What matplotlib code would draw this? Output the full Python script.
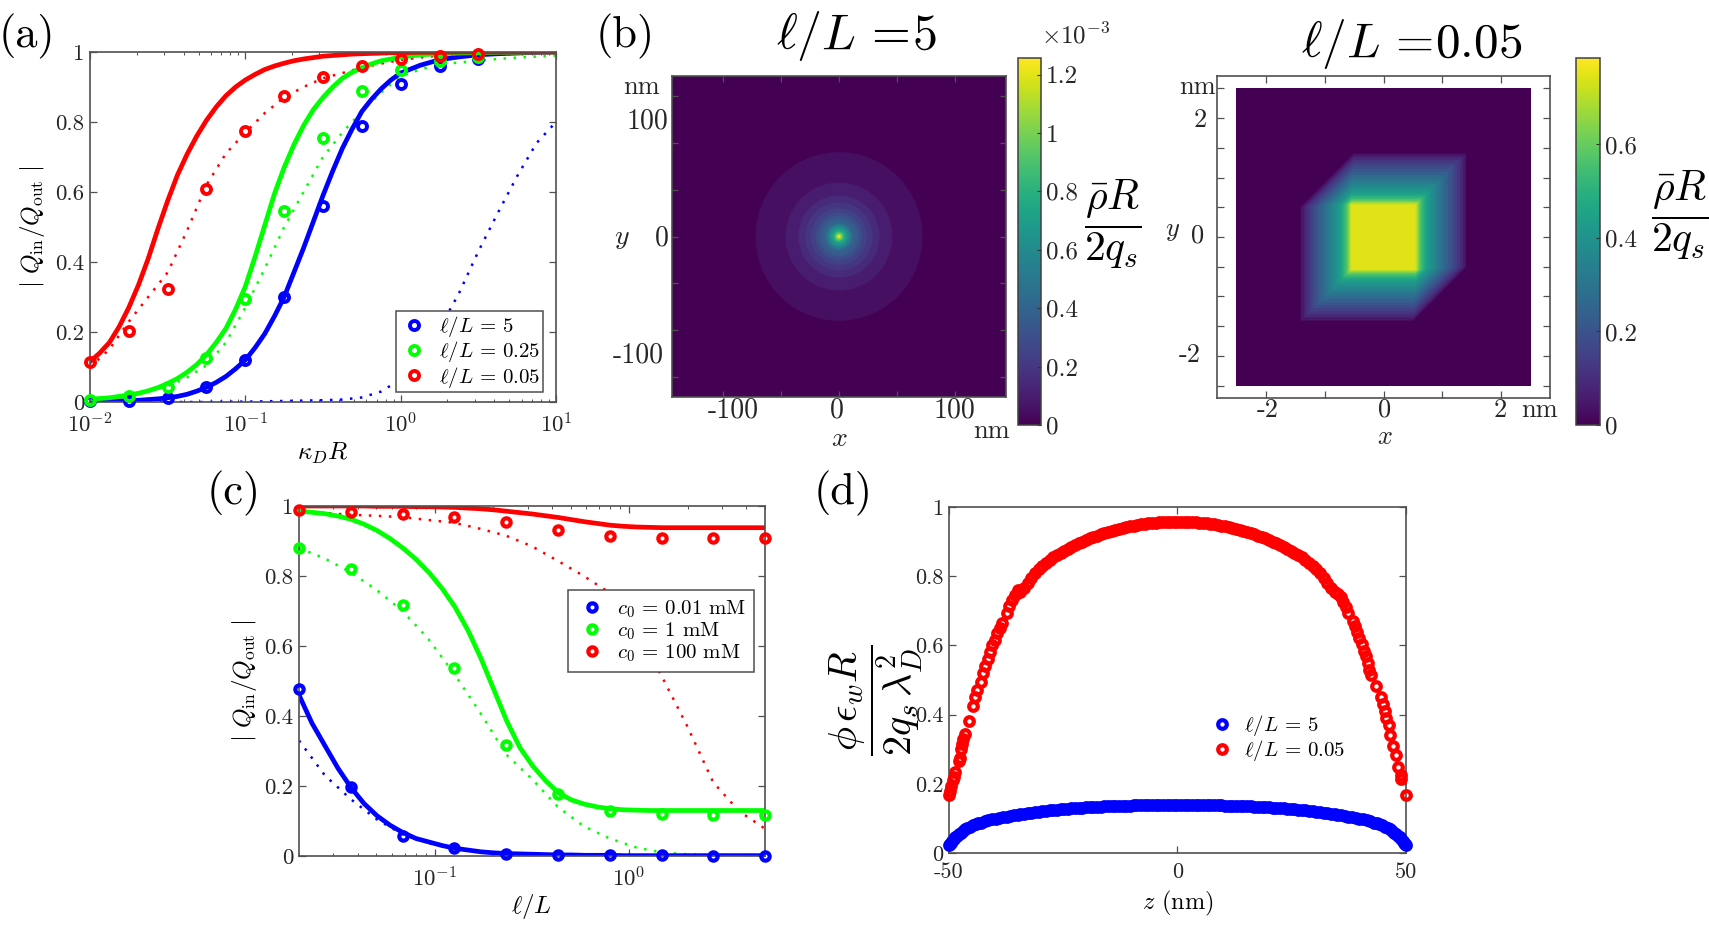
import numpy as np
import matplotlib
matplotlib.use("Agg")
import matplotlib.pyplot as plt

plt.rcParams["font.family"] = ["cmr10", "DejaVu Sans"]
plt.rcParams["mathtext.fontset"] = "cm"
plt.rcParams["axes.formatter.use_mathtext"] = True
plt.rcParams["axes.unicode_minus"] = False

W, H = 1709, 932
BLUE, GREEN, RED = (0, 0, 1), (0, 1, 0), (1, 0, 0)
AXC = "#505050"

# panel a
a_pts_x = [0.01, 0.0178, 0.0316, 0.0562, 0.1, 0.178, 0.316, 0.562, 1, 1.78, 3.16]
a_pts_blue = [0.002, 0.004, 0.012, 0.043, 0.12, 0.30, 0.56, 0.79, 0.91, 0.96, 0.98]
a_pts_green = [0.007, 0.018, 0.042, 0.125, 0.295, 0.545, 0.755, 0.89, 0.95, 0.975, 0.985]
a_pts_red = [0.115, 0.203, 0.323, 0.61, 0.775, 0.875, 0.93, 0.96, 0.98, 0.99, 0.995]
a_x = [.01, .01155, .01334, .0154, .01778, .02054, .02371, .02738, .03162, .03652, .04217, .0487, .05623, .06494,
       .07499, .0866, .1, .1155, .1334, .154, .1778, .2054, .2371, .2738, .3162, .3652, .4217, .487, .5623, .6494,
       .7499, .866, 1, 1.334, 1.778, 2.371, 3.162, 4.217, 5.623, 7.499, 10]
a_blue = [.001, .0015, .002, .003, .004, .005, .007, .009, .012, .016, .022, .031, .042, .056, .073, .095, .12, .155,
          .195, .245, .30, .37, .44, .515, .59, .66, .725, .78, .83, .865, .895, .92, .94, .962, .978, .986, .992,
          .995, .997, .999, 1]
a_green = [.008, .01, .012, .016, .02, .025, .032, .041, .053, .067, .085, .107, .135, .17, .21, .265, .33, .415,
           .505, .595, .67, .735, .79, .835, .87, .90, .925, .942, .955, .966, .975, .98, .985, .992, .995, .997, .998,
           .999, .999, 1, 1]
a_red = [.115, .14, .17, .215, .27, .335, .41, .495, .575, .648, .708, .76, .805, .843, .875, .90, .92, .936, .95, .96,
         .968, .975, .98, .984, .988, .99, .992, .994, .995, .996, .997, .998, .998, .999, .999, 1, 1, 1, 1, 1, 1]
a_x_dot = [0.01, 0.0133, 0.0178, 0.0237, 0.0316, 0.0422, 0.0562, 0.075, 0.1, 0.133, 0.178, 0.237, 0.316,
           0.422, 0.562, 0.75, 1, 1.33, 1.78, 2.37, 3.16, 4.22, 5.62, 7.5, 10]
a_blue_dot = [0, 0, 0, 0, 0, 0, 0, .001, .001, .002, .003, .004, .005,
              .007, .013, .03, .065, .12, .21, .31, .43, .54, .645, .74, .80]
a_green_dot = [.005, .008, .018, .03, .045, .07, .105, .17, .27, .38, .50, .60, .70,
               .77, .83, .885, .93, .95, .965, .97, .975, .98, .984, .987, .99]
a_red_dot = [.10, .15, .23, .30, .37, .49, .62, .71, .77, .825, .87, .90, .925,
             .94, .955, .967, .977, .984, .99, .993, .995, .997, .998, .999, 1]

# panel c
c_pts_x = [0.02, 0.037, 0.0682, 0.126, 0.233, 0.43, 0.794, 1.47, 2.71, 5]
c_pts_blue = [.477, .197, .058, .022, .007, .003, .002, .002, .001, .001]
c_pts_green = [.88, .82, .717, .537, .316, .178, .13, .12, .118, .118]
c_pts_red = [.99, .983, .978, .968, .953, .932, .915, .91, .91, .91]
c_x = [.02, .0233, .0272, .0318, .0371, .0432, .0504, .0588, .0685, .08, .0933, .1088, .1268, .148, .1726, .2013,
       .2347, .2738, .3192, .372, .4335, .5058, .59, .6887, .802, .935, 1.09, 1.273, 1.486, 1.73, 2.02, 2.355, 2.748,
       3.206, 3.74, 4.365, 5]
c_blue = [.46, .38, .315, .25, .195, .15, .115, .088, .067, .05, .04, .03, .022, .017, .012, .009, .007, .006, .005,
          .004, .003, .003, .002, .002, .002, .001, .001, .001, .001, .001, .001, .001, .001, .001, .001, .001, .001]
c_green = [.985, .982, .978, .971, .962, .948, .93, .907, .88, .848, .81, .765, .712, .645, .565, .475, .385, .31, .257,
           .215, .18, .16, .148, .14, .135, .132, .131, .13, .13, .13, .13, .13, .13, .13, .13, .13, .13]
c_red = [1, 1, 1, 1, 1, 1, .999, .999, .999, .998, .998, .997, .996, .994, .992, .989, .985, .981, .977, .972, .967,
         .961, .955, .95, .945, .942, .94, .939, .938, .938, .938, .938, .938, .938, .938, .938, .938]
c_x_dot = [0.02, 0.0272, 0.037, 0.0502, 0.0682, 0.0927, 0.126, 0.171, 0.233, 0.316, 0.43, 0.584, 0.794,
           1.08, 1.47, 1.99, 2.71, 3.68, 5]
c_blue_dot = [.33, .23, .162, .105, .062, .037, .02, .012, .007, .004, .003, .002, .001, .001, .001, .001, .001, .001, .001]
c_green_dot = [.88, .85, .81, .76, .70, .62, .52, .41, .29, .22, .14, .085, .05, .025, .01, .005, .003, .002, .001]
c_red_dot = [.985, .98, .975, .972, .968, .96, .952, .935, .915, .885, .843, .80, .752, .64, .514, .371, .21, .128, .078]

# panel d
d_z_half = [0, .8, 1.6, 2.4, 3.2, 4, 4.8, 5.6, 6.4, 7.2, 8, 8.8, 9.6, 10.4, 11.2, 12, 12.8, 13.6, 14.4, 15.2, 16, 16.8,
            17.6, 18.4, 19.2, 20, 20.8, 21.6, 22.4, 23.2, 24, 24.8, 25.6, 26.4, 27.2, 28, 28.8, 29.6, 30.4, 31.2, 32,
            32.8, 33.6, 34.4]
d_red_half = [.958, .958, .958, .957, .957, .956, .955, .954, .953, .951, .95, .948, .946, .944, .942, .94, .937, .934,
              .931, .928, .925, .921, .917, .913, .909, .905, .90, .895, .89, .885, .88, .874, .868, .862, .855, .848,
              .839, .83, .82, .808, .795, .781, .767, .753]
d_blue_half = [.14, .14, .14, .14, .14, .139, .139, .139, .139, .139, .139, .138, .138, .137, .137, .137, .136, .136,
               .135, .135, .135, .134, .133, .133, .132, .132, .131, .13, .13, .129, .128, .127, .126, .125, .124, .123,
               .122, .12, .119, .118, .116, .115, .113, .112]
d_z_blue_tail = [35, 35.8, 36.6, 37.4, 38.2, 39, 39.8, 40.6, 41.4, 42.2, 43, 43.6, 44.2, 44.8, 45.4, 46, 46.5, 47, 47.4,
                 47.8, 48.2, 48.6, 49, 49.3, 49.6, 49.8, 50]
d_blue_tail = [.111, .109, .107, .105, .103, .101, .099, .097, .094, .092, .088, .086, .083, .08, .076, .072, .068, .063,
               .059, .055, .05, .045, .04, .034, .029, .025, .022]
d_z_red_left = [-50, -49.8, -49.5, -49.2, -49, -48.7, -47.9, -47.7, -47.4, -47.1, -46.9, -46.6, -45.7, -44.8, -44.3, -43.9,
                -43, -42.6, -42.1, -41.5, -41, -40.5, -40, -39.4, -38.9, -38.3, -37.4, -36.8, -36.2, -35.6, -35]
d_red_left = [.167, .18, .195, .21, .22, .235, .265, .275, .30, .315, .33, .345, .382, .425, .45, .47,
              .495, .52, .54, .56, .58, .60, .615, .635, .65, .665, .695, .715, .73, .745, .76]
d_z_red_right = [35.2, 35.7, 36.3, 36.9, 37.4, 38.3, 38.8, 39.3, 39.8, 40.3, 40.8, 41.2, 41.6, 42, 42.4, 43.4, 44.5, 44.9,
                 45.3, 45.7, 46.2, 46.6, 47.2, 47.8, 48.3, 48.8, 49, 50]
d_red_right = [.75, .74, .725, .71, .695, .67, .655, .64, .62, .605, .585, .57, .55, .53, .515, .483, .45, .43,
               .41, .39, .37, .34, .31, .283, .25, .225, .215, .167]

# panel b
ring_radii = [72, 46, 35, 29, 24, 20, 17, 14, 11, 9, 7, 5, 3.5, 2, 1]
ring_values = [0.05e-3, 0.1e-3, 0.15e-3, 0.2e-3, 0.25e-3, 0.3e-3, 0.35e-3, 0.4e-3, 0.5e-3, 0.6e-3, 0.7e-3, 0.8e-3,
               0.95e-3, 1.1e-3, 1.25e-3]
band_edges = [0, .03, .06, .1, .14, .18, .23, .28, .34, .4, .46, .52, .58, .64, .7, .76, .82, .88, .94, 1]
band_values = [.75, .70, .64, .58, .53, .49, .45, .42, .39, .36, .33, .30, .27, .24, .21, .18, .15, .12, .09, .05]


def axpx(x0, x1, y0, y1):
    return fig.add_axes([x0 / W, 1 - y1 / H, (x1 - x0) / W, (y1 - y0) / H])


def txt(x, y, s, size=20, **kw):
    fig.text(x / W, 1 - y / H, s, fontsize=size, ha=kw.pop("ha", "center"), va=kw.pop("va", "center"),
             color=kw.pop("color", "#262626"), **kw)


def style(ax, size=16.5):
    for s in ax.spines.values():
        s.set_color(AXC)
        s.set_linewidth(1.2)
    ax.tick_params(which="major", direction="in", top=True, right=True, length=5, width=0.9, color=AXC,
                   labelsize=size, labelcolor="#262626", pad=4)
    ax.tick_params(which="minor", direction="in", top=True, right=True, length=2.5, width=0.7, color=AXC)
    ax.tick_params(axis="x", which="major", pad=7)


def ring(ax, x, y, c, label=None, ms=6.5, mew=2.8):
    ax.plot(x, y, "o", mfc="none", mec=c, ms=ms, mew=mew, clip_on=False, label=label, zorder=4)


def box_legend(ax, pad=0.3, **kw):
    leg = ax.legend(fontsize=15, fancybox=False, framealpha=1, edgecolor=AXC, borderaxespad=0, handlelength=1.5,
                    handletextpad=0.45, labelspacing=0.02, borderpad=pad, **kw)
    leg.set_zorder(6)
    leg.get_frame().set_linewidth(1.1)


fig = plt.figure(figsize=(W / 100, H / 100), dpi=100)
yt = [0, .2, .4, .6, .8, 1]
ytl = ["0", "0.2", "0.4", "0.6", "0.8", "1"]

# (a)
ax = axpx(90, 556, 52, 402)
style(ax)
ax.set_xscale("log")
ax.plot(a_x_dot, a_blue_dot, color=BLUE, lw=1.8, ls=(0, (1, 3)))
ax.plot(a_x_dot, a_green_dot, color=GREEN, lw=1.8, ls=(0, (1, 3)))
ax.plot(a_x_dot, a_red_dot, color=RED, lw=1.8, ls=(0, (1, 3)))
ax.plot(a_x, a_blue, color=BLUE, lw=3.4)
ax.plot(a_x, a_green, color=GREEN, lw=3.4)
ax.plot(a_x, a_red, color=RED, lw=3.4)
ring(ax, a_pts_x, a_pts_blue, BLUE, r"$\ell/L$ = 5")
ring(ax, a_pts_x, a_pts_green, GREEN, r"$\ell/L$ = 0.25")
ring(ax, a_pts_x, a_pts_red, RED, r"$\ell/L$ = 0.05")
ax.set_xlim(0.01, 10)
ax.set_ylim(0, 1)
ax.set_yticks(yt, ytl)
ax.set_xlabel(r"$\kappa_D R$", fontsize=18, labelpad=3)
ax.set_ylabel(r"$|\ Q_{\rm in}/Q_{\rm out}\ |$", fontsize=18, labelpad=6)
box_legend(ax, pad=0.12, loc="lower right", bbox_to_anchor=(0.972, 0.028))

# (b) left
ax = axpx(672, 1006, 76, 397)
style(ax)
xs = np.linspace(-144, 144, 801)
ys = np.linspace(-137, 137, 801)
rr = np.hypot(*np.meshgrid(xs, ys))
field = np.zeros_like(rr)
for r, v in zip(ring_radii, ring_values):
    field[rr <= r] = v
im = ax.imshow(field, extent=[-144, 144, -137, 137], origin="lower", aspect="auto", cmap="viridis",
               vmin=0, vmax=1.257e-3, interpolation="bilinear")
ax.set_xticks([-100, -50, 0, 50, 100], [])
ax.set_yticks([-120, -80, -40, 0, 40, 80, 120], [])
ax.tick_params(which="major", color="#505050", length=4)
cax = axpx(1018, 1041, 58, 425)
cb = fig.colorbar(im, cax=cax)
cb.set_ticks([0, .2e-3, .4e-3, .6e-3, .8e-3, 1e-3, 1.2e-3], labels=["0", "0.2", "0.4", "0.6", "0.8", "1", "1.2"])
cb.ax.tick_params(direction="in", length=3, width=0.8, labelsize=18, color="#303030", labelcolor="#262626")
cb.outline.set_edgecolor("#404040")
cb.outline.set_linewidth(1.1)
txt(1076, 36, r"$\times 10^{-3}$", 18)
txt(856, 36, r"$\ell/L\,=\!5$", 36, color="black")
txt(1113, 224, r"$\dfrac{\bar{\rho}R}{2q_s}$", 30, color="black")
txt(642, 87, "nm", 19)
txt(647, 121, "100", 20)
txt(662, 238, "0", 20)
txt(638, 355, "-100", 20)
txt(622, 238, r"$y$", 20)
txt(733, 410, "-100", 20)
txt(837, 410, "0", 20)
txt(954, 410, "100", 20)
txt(839, 439, r"$x$", 20)
txt(991, 431, "nm", 19)

# (b) right
ax = axpx(1217, 1550, 76, 398)
style(ax)
gx = np.linspace(-2.5, 2.5, 801)
gy = np.linspace(-2.5, 2.5, 801)
X, Y = np.meshgrid(gx, gy)
d = np.maximum.reduce([(np.abs(X) - .55) / .85, (np.abs(Y) - .55) / .85, (np.abs(X - Y) - 1.1) / .8])
cube = np.zeros_like(d)
for e, v in zip(band_edges[::-1], band_values[::-1]):
    cube[d <= e] = v
im2 = ax.imshow(cube, extent=[-2.5, 2.5, -2.5, 2.5], origin="lower", aspect="auto", cmap="viridis",
                vmin=0, vmax=.785, interpolation="bilinear")
ax.set_xlim(-2.83, 2.83)
ax.set_ylim(-2.71, 2.71)
ax.set_xticks([-2, -1, 0, 1, 2], [])
ax.set_yticks([-2.5, -2, -1.5, -1, -.5, 0, .5, 1, 1.5, 2, 2.5], [])
cax2 = axpx(1576, 1600, 58, 425)
cb2 = fig.colorbar(im2, cax=cax2)
cb2.set_ticks([0, .2, .4, .6], labels=["0", "0.2", "0.4", "0.6"])
cb2.ax.tick_params(direction="in", length=3, width=0.8, labelsize=18, color="#303030", labelcolor="#262626")
cb2.outline.set_edgecolor("#404040")
cb2.outline.set_linewidth(1.1)
txt(1412, 44, r"$\ell/L\,=\!0.05$", 35.5, color="black")
txt(1680, 215, r"$\dfrac{\bar{\rho}R}{2q_s}$", 30, color="black")
txt(1198, 87, "nm", 19)
txt(1200, 120, "2", 19)
txt(1198, 236, "0", 19)
txt(1190, 355, "-2", 19)
txt(1173, 231, r"$y$", 19)
txt(1268, 410, "-2", 19)
txt(1385, 410, "0", 19)
txt(1500, 410, "2", 19)
txt(1539, 410, "nm", 19)
txt(1385, 437, r"$x$", 19)

# (c)
ax = axpx(299, 765, 506, 856)
style(ax)
ax.set_xscale("log")
ax.plot(c_x_dot, c_blue_dot, color=BLUE, lw=1.8, ls=(0, (1, 3)))
ax.plot(c_x_dot, c_green_dot, color=GREEN, lw=1.8, ls=(0, (1, 3)))
ax.plot(c_x_dot, c_red_dot, color=RED, lw=1.8, ls=(0, (1, 3)))
ax.plot(c_x, c_blue, color=BLUE, lw=3.4)
ax.plot(c_x, c_green, color=GREEN, lw=3.4)
ax.plot(c_x, c_red, color=RED, lw=3.4)
ring(ax, c_pts_x, c_pts_blue, BLUE, r"$c_0$ = 0.01 mM", ms=6, mew=3)
ring(ax, c_pts_x, c_pts_green, GREEN, r"$c_0$ = 1 mM", ms=6, mew=3)
ring(ax, c_pts_x, c_pts_red, RED, r"$c_0$ = 100 mM", ms=6, mew=3)
ax.set_xlim(0.02, 5)
ax.set_ylim(0, 1)
ax.set_yticks(yt, ytl)
ax.set_xlabel(r"$\ell/L$", fontsize=18, labelpad=1)
ax.set_ylabel(r"$|\ Q_{\rm in}/Q_{\rm out}\ |$", fontsize=18, labelpad=4)
box_legend(ax, pad=0.4, loc="upper right", bbox_to_anchor=(0.977, 0.76))

# (d)
ax = axpx(949, 1406, 507, 853)
style(ax, 16)
zh = np.array(d_z_half)
z_blue = np.r_[-np.array(d_z_blue_tail)[::-1], -zh[::-1], zh[1:], d_z_blue_tail]
v_blue = np.r_[d_blue_tail[::-1], d_blue_half[::-1], d_blue_half[1:], d_blue_tail]
z_red = np.r_[d_z_red_left, -zh[::-1], zh[1:], d_z_red_right]
v_red = np.r_[d_red_left, d_red_half[::-1], d_red_half[1:], d_red_right]
ring(ax, z_blue, v_blue, BLUE, r"$\ell/L$ = 5", ms=6.2, mew=3)
ring(ax, z_red, v_red, RED, r"$\ell/L$ = 0.05", ms=6.2, mew=3)
ax.set_xlim(-50, 50)
ax.set_ylim(0, 1)
ax.set_xticks([-50, 0, 50], ["-50", "0", "50"])
ax.set_yticks(yt, ytl)
ax.set_xlabel(r"$z$ (nm)", fontsize=17.5, labelpad=5)
ax.legend(loc="upper left", bbox_to_anchor=(0.564, 0.405), fontsize=15, frameon=False, borderaxespad=0,
          handlelength=1.5, handletextpad=0.3, labelspacing=0.02, borderpad=0)
txt(876, 700, r"$\dfrac{\phi\,\epsilon_w R}{2q_s\,\lambda_D^2}$", 29, rotation=90, color="black")

txt(27, 36, "(a)", 32, color="black")
txt(625, 36, "(b)", 32, color="black")
txt(234, 493, "(c)", 32, color="black")
txt(843, 493, "(d)", 32, color="black")

fig.savefig("out.png", dpi=100)
